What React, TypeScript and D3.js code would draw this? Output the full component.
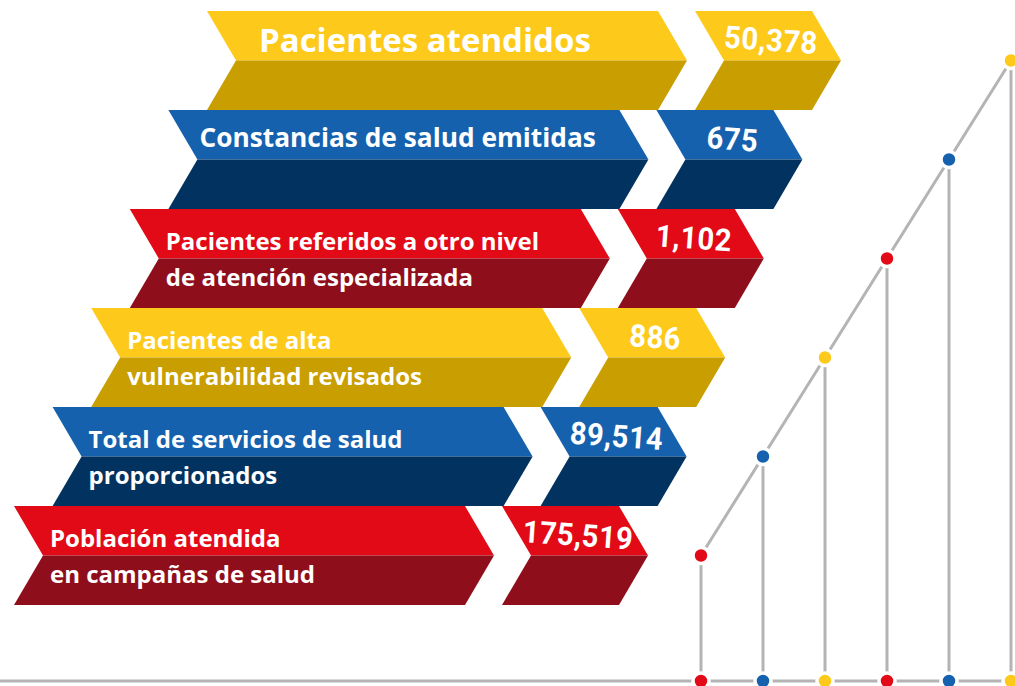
import React from "react"
import * as d3 from "d3"

const WIDTH = 1015
const HEIGHT = 686

// rows, top to bottom
const labels: string[][] = [
    ["Pacientes atendidos"],
    ["Constancias de salud emitidas"],
    ["Pacientes referidos a otro nivel", "de atención especializada"],
    ["Pacientes de alta", "vulnerabilidad revisados"],
    ["Total de servicios de salud", "proporcionados"],
    ["Población atendida", "en campañas de salud"],
]
const values = ["50,378", "675", "1,102", "886", "89,514", "175,519"]
const colorKeys = ["yellow", "blue", "red", "yellow", "blue", "red"]

const PALETTE: Record<string, { top: string; bottom: string }> = {
    yellow: { top: "#FDCA1B", bottom: "#C99E01" },
    blue: { top: "#1561AE", bottom: "#02325F" },
    red: { top: "#E20A17", bottom: "#8F0E1C" },
}
const GRAY = "#B4B4B4"

const LABEL_W = 451
const VALUE_W = 117
const GAP = 37
const NOTCH = 29

const chevron = (x0: number, top: number, w: number, h: number, half: "top" | "bottom") => {
    const mid = top + h / 2
    const bot = top + h
    const pts =
        half === "top"
            ? [[x0, top], [x0 + w, top], [x0 + w + NOTCH, mid], [x0 + NOTCH, mid]]
            : [[x0 + NOTCH, mid], [x0 + w + NOTCH, mid], [x0 + w, bot], [x0, bot]]
    return d3.line()(pts as [number, number][]) + "Z"
}

export default function App() {
    const idx = values.map((_, i) => String(i))
    const yScale = d3.scaleBand().domain(idx).range([11, 605]).padding(0)
    const xShift = d3.scaleLinear().domain([0, values.length - 1]).range([207, 14])
    const dotX = d3.scaleLinear().domain([values.length - 1, 0]).range([701, 1011])
    const baseY = 681
    const h = yScale.step()

    const rows = values.map((v, i) => {
        const top = yScale(String(i)) as number
        const x0 = xShift(i)
        const vx0 = x0 + LABEL_W + GAP
        const c = PALETTE[colorKeys[i]]
        const lines = labels[i]
        const single = lines.length === 1
        const vcx = vx0 + 76
        const vcy = top + 29
        return (
            <g key={i}>
                <path d={chevron(x0, top, LABEL_W, h, "top")} fill={c.top} />
                <path d={chevron(x0, top, LABEL_W, h, "bottom")} fill={c.bottom} />
                <path d={chevron(vx0, top, VALUE_W, h, "top")} fill={c.top} />
                <path d={chevron(vx0, top, VALUE_W, h, "bottom")} fill={c.bottom} />
                {single ? (
                    <text
                        x={x0 + (i === 0 ? 52 : 31)}
                        y={top + (i === 0 ? 41 : 37)}
                        fill="#fff"
                        fontFamily="'Open Sans', sans-serif"
                        fontWeight={700}
                        fontSize={i === 0 ? 33 : 26.3}
                    >
                        {lines[0]}
                    </text>
                ) : (
                    lines.map((t, j) => (
                        <text
                            key={j}
                            x={x0 + 36}
                            y={top + 41 + j * 36}
                            fill="#fff"
                            fontFamily="'Open Sans', sans-serif"
                            fontWeight={700}
                            fontSize={24}
                        >
                            {t}
                        </text>
                    ))
                )}
                <g transform={`translate(${vcx}, ${vcy}) rotate(4) scale(0.94, 1)`}>
                    <text
                        textAnchor="middle"
                        dominantBaseline="central"
                        fill="#fff"
                        fontFamily="Roboto, sans-serif"
                        fontWeight={700}
                        fontSize={31}
                        letterSpacing={0.5}
                    >
                        {v}
                    </text>
                </g>
            </g>
        )
    })

    const pts = values.map((_, i) => [dotX(i), (yScale(String(i)) as number) + h / 2] as [number, number])

    return (
        <svg
            width={WIDTH}
            height={HEIGHT}
            style={{ position: "absolute", left: 0, top: 0, display: "block" }}
        >
            <rect width={WIDTH} height={HEIGHT} fill="#fff" />
            {rows}
            <line x1={0} x2={WIDTH} y1={baseY} y2={baseY} stroke={GRAY} strokeWidth={3} />
            <path
                d={d3.line()(pts.slice().sort((a, b) => a[0] - b[0])) || ""}
                fill="none"
                stroke={GRAY}
                strokeWidth={3}
            />
            {pts.map(([x, y], i) => (
                <line key={i} x1={x} x2={x} y1={y} y2={baseY} stroke={GRAY} strokeWidth={3} />
            ))}
            {pts.map(([x, y], i) => (
                <g key={i}>
                    <circle cx={x} cy={y} r={8} fill={PALETTE[colorKeys[i]].top} stroke="#fff" strokeWidth={3.5} />
                    <circle cx={x} cy={baseY} r={8} fill={PALETTE[colorKeys[i]].top} stroke="#fff" strokeWidth={3.5} />
                </g>
            ))}
        </svg>
    )
}
